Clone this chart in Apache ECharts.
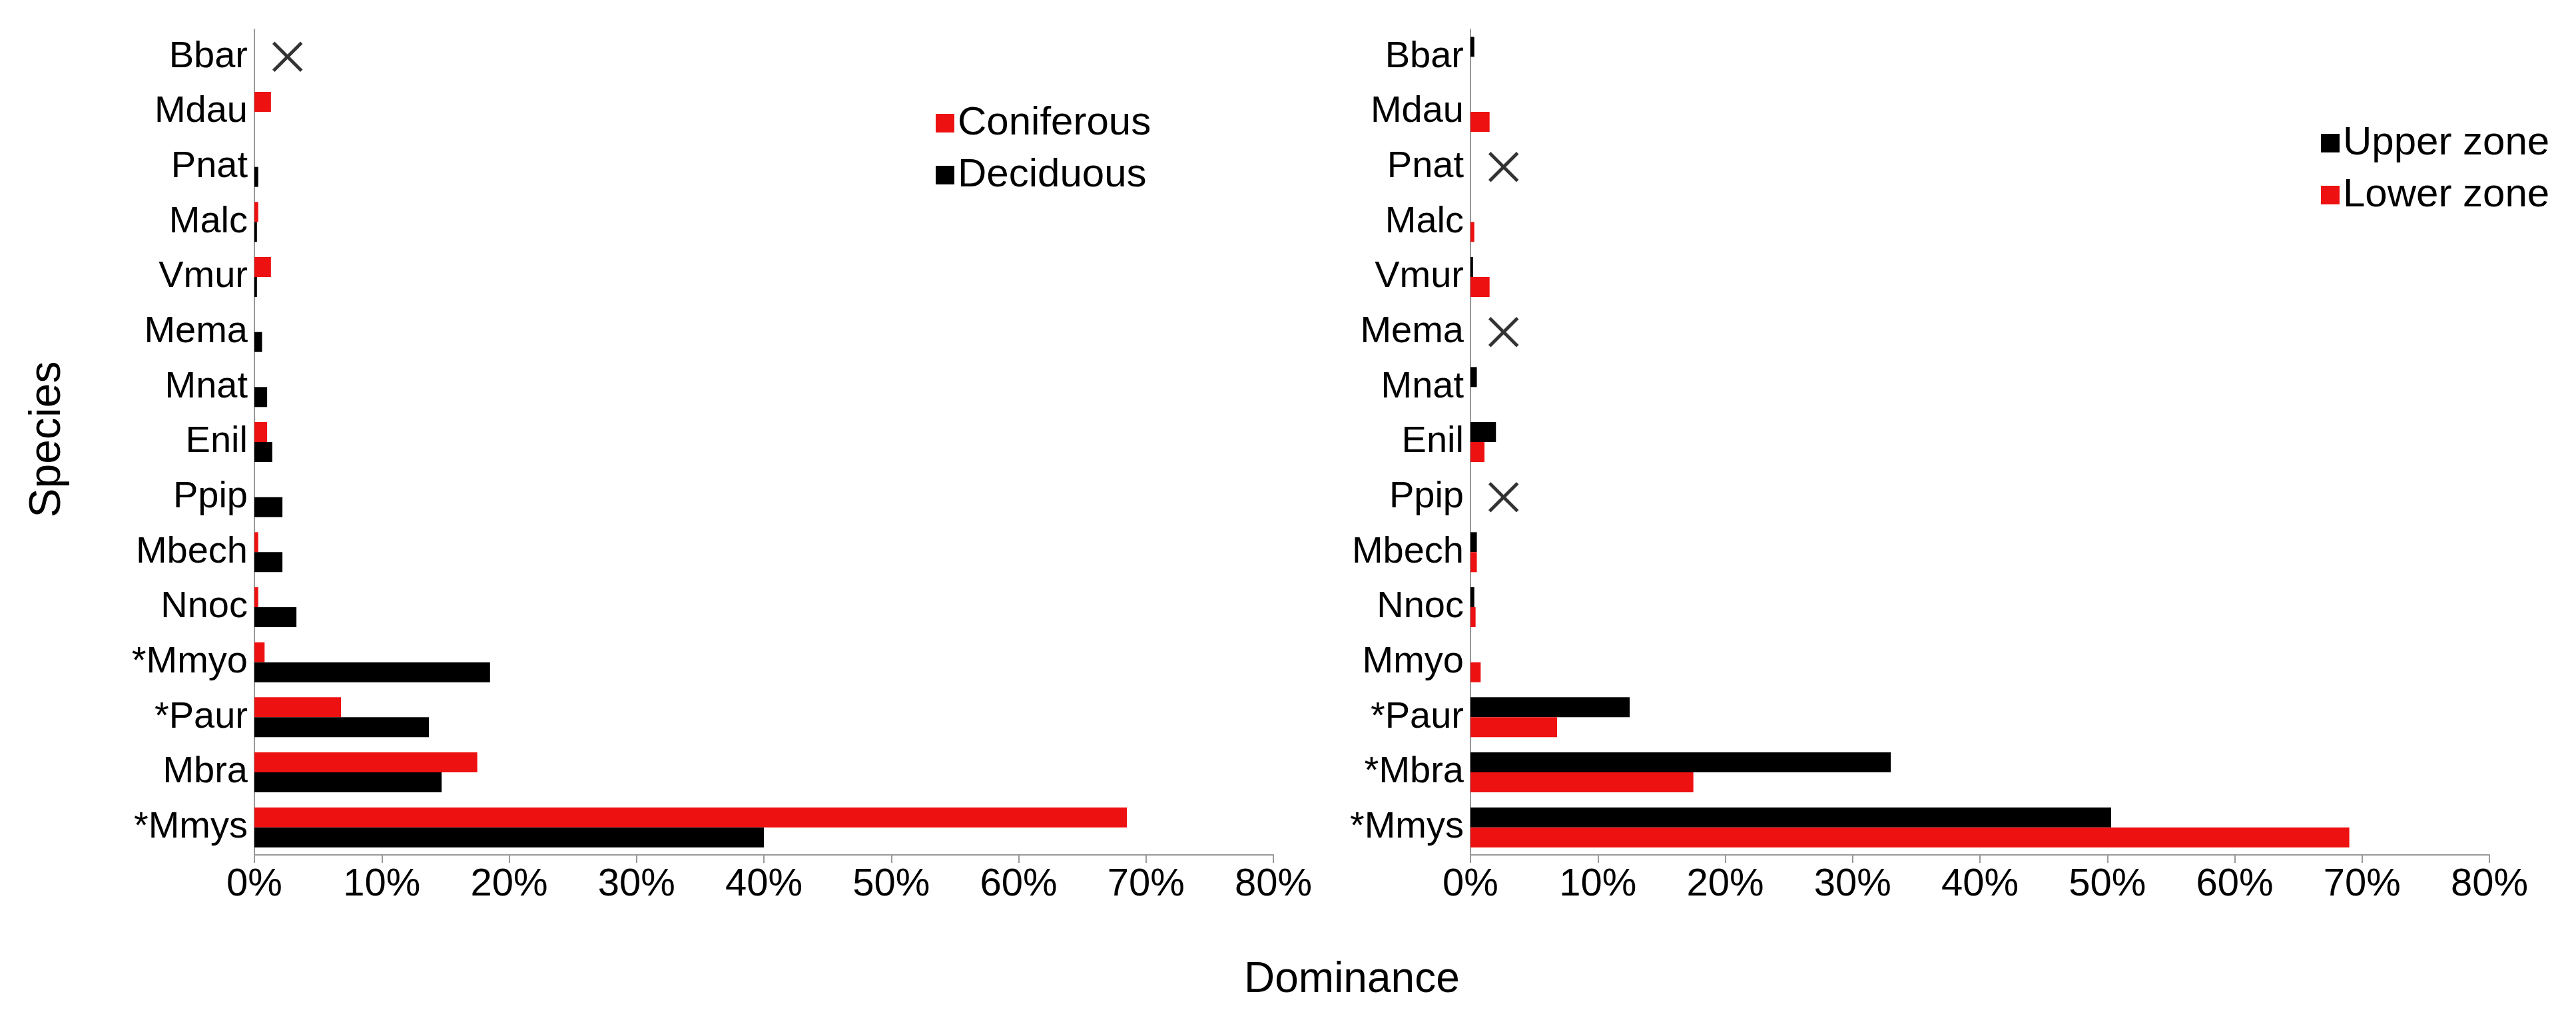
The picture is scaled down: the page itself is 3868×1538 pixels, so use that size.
<!DOCTYPE html>
<html lang="en">
<head>
<meta charset="UTF-8">
<title>Dominance</title>
<script src="https://cdn.jsdelivr.net/npm/echarts@6/dist/echarts.min.js"></script>
</head>
<body style="margin:0;background:#fff">
<div id="chart" style="width:3868px;height:1538px;"></div>
<script>
const speciesLeft = ['*Mmys', 'Mbra', '*Paur', '*Mmyo', 'Nnoc', 'Mbech', 'Ppip', 'Enil', 'Mnat', 'Mema', 'Vmur', 'Malc', 'Pnat', 'Mdau', 'Bbar'];
const speciesRight = ['*Mmys', '*Mbra', '*Paur', 'Mmyo', 'Nnoc', 'Mbech', 'Ppip', 'Enil', 'Mnat', 'Mema', 'Vmur', 'Malc', 'Pnat', 'Mdau', 'Bbar'];
const coniferous = [68.5, 17.5, 6.8, 0.8, 0.3, 0.3, 0, 1.0, 0, 0, 1.3, 0.3, 0, 1.3, 0];
const deciduous = [40, 14.7, 13.7, 18.5, 3.3, 2.2, 2.2, 1.4, 1.0, 0.6, 0.2, 0.2, 0.3, 0, 0];
const upperZone = [50.3, 33, 12.5, 0, 0.3, 0.5, 0, 2.0, 0.5, 0, 0.2, 0, 0, 0, 0.3];
const lowerZone = [69, 17.5, 6.8, 0.8, 0.4, 0.5, 0, 1.1, 0, 0, 1.5, 0.3, 0, 1.5, 0];
// species with no records, marked with a cross: [value, species]
const missingLeft = [[2.6, 'Bbar']];
const missingRight = [[2.6, 'Pnat'], [2.6, 'Mema'], [2.6, 'Ppip']];

const cross = 'path://M0,0L10,10M10,0L0,10';
const font = 'Arial';
const RED = '#ee1111', BLACK = '#000';

function xAx(i) {
  return {
    gridIndex: i, type: 'value', min: 0, max: 80, interval: 10,
    axisLine: { show: true, lineStyle: { color: '#999', width: 2 } },
    axisTick: { show: true, length: 12, lineStyle: { color: '#999', width: 2 } },
    splitLine: { show: false },
    axisLabel: { formatter: '{value}%', fontSize: 58, color: '#000', fontFamily: font, margin: 16 }
  };
}
function yAx(i, cats) {
  return {
    gridIndex: i, type: 'category', data: cats,
    axisLine: { show: true, lineStyle: { color: '#999', width: 2 } },
    axisTick: { show: false },
    axisLabel: { fontSize: 56, color: '#000', fontFamily: font, margin: 10 }
  };
}
function bar(name, data, color, i) {
  return { name, type: 'bar', data, xAxisIndex: i, yAxisIndex: i, barWidth: 30, barGap: '0%',
    itemStyle: { color } };
}
function marks(data, i) {
  return { type: 'scatter', data, xAxisIndex: i, yAxisIndex: i, symbol: cross, symbolSize: 42,
    itemStyle: { color: 'transparent', borderColor: '#000', borderWidth: 5 }, z: 5 };
}

const chart = echarts.init(document.getElementById('chart'));
chart.setOption({
  animation: false,
  grid: [
    { left: 382, width: 1530, top: 44, height: 1240 },
    { left: 2208, width: 1530, top: 44, height: 1240 }
  ],
  xAxis: [xAx(0), xAx(1)],
  yAxis: [yAx(0, speciesLeft), yAx(1, speciesRight)],
  legend: [
    { data: ['Coniferous', 'Deciduous'], orient: 'vertical', left: 1400, top: 150, itemWidth: 28, itemHeight: 28, itemGap: 18,
      textStyle: { fontSize: 60, fontFamily: font, color: '#000' }, icon: 'rect' },
    { data: ['Upper zone', 'Lower zone'], orient: 'vertical', left: 3480, top: 180, itemWidth: 28, itemHeight: 28, itemGap: 18,
      textStyle: { fontSize: 60, fontFamily: font, color: '#000' }, icon: 'rect' }
  ],
  graphic: [
    { type: 'text', left: 2048 - 180, top: 1440, style: { text: 'Dominance', fontSize: 64, fontFamily: font, fill: '#000' } },
    { type: 'text', x: 72, y: 660, rotation: Math.PI / 2, style: { text: 'Species', fontSize: 66, fontFamily: font, fill: '#000', align: 'center', verticalAlign: 'middle' } }
  ],
  series: [
    bar('Coniferous', coniferous, RED, 0),
    bar('Deciduous', deciduous, BLACK, 0),
    marks(missingLeft, 0),
    bar('Upper zone', upperZone, BLACK, 1),
    bar('Lower zone', lowerZone, RED, 1),
    marks(missingRight, 1)
  ]
});
</script>
</body>
</html>
